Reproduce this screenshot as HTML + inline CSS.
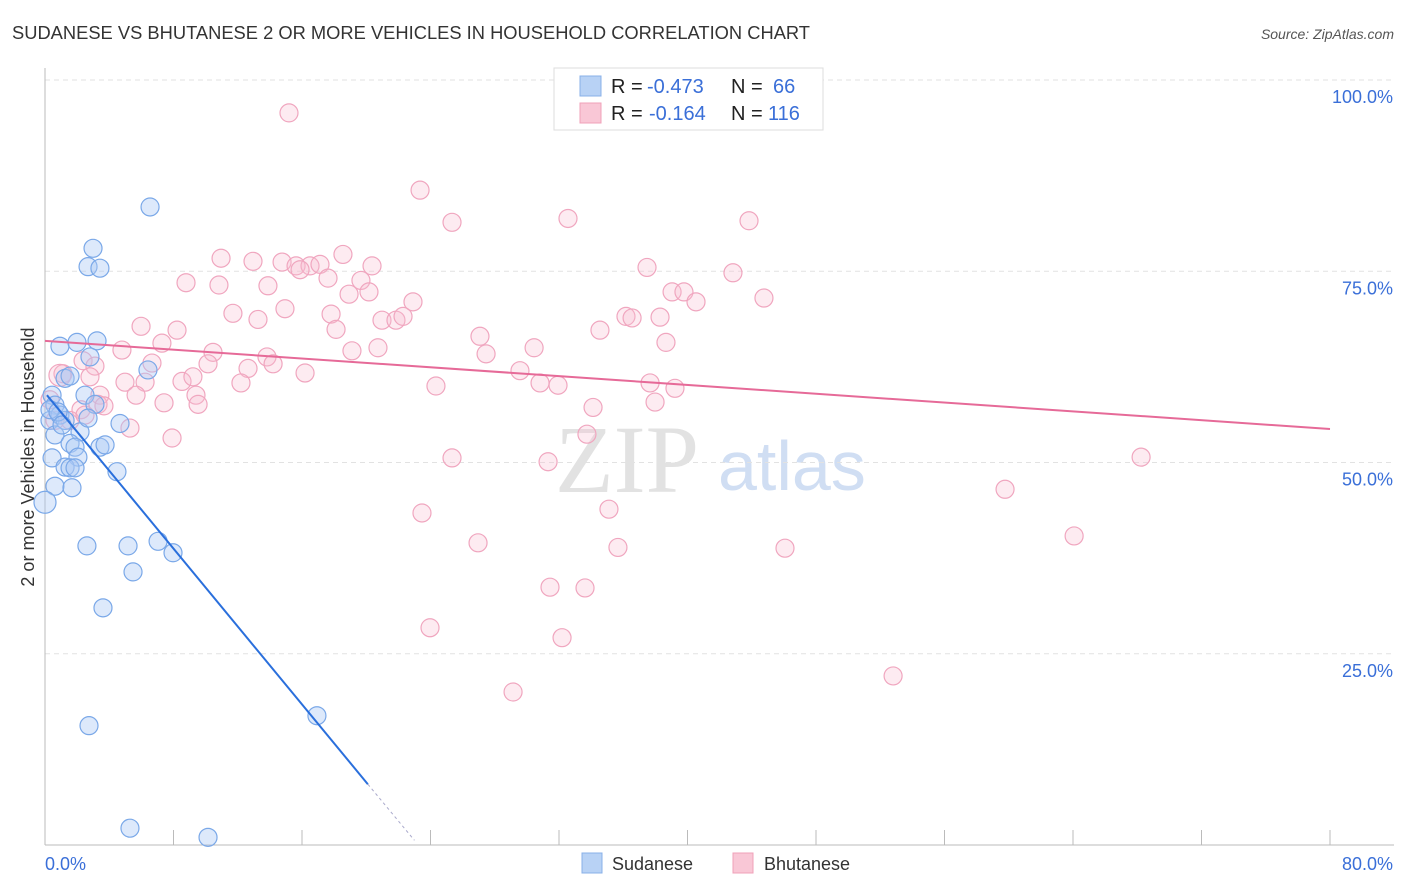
<!DOCTYPE html>
<html><head><meta charset="utf-8"><style>
body{margin:0;background:#fff;font-family:"Liberation Sans",sans-serif;}
svg{display:block}
</style></head><body>
<svg id="chart" width="1406" height="892">
<text x="12" y="39" font-size="18" fill="#333" textLength="798" lengthAdjust="spacingAndGlyphs">SUDANESE VS BHUTANESE 2 OR MORE VEHICLES IN HOUSEHOLD CORRELATION CHART</text>
<text x="1394" y="39" font-size="14" fill="#555" font-style="italic" text-anchor="end">Source: ZipAtlas.com</text>
<text x="555" y="492" font-size="96" fill="#e2e2e2" font-family="Liberation Serif,serif">ZIP</text>
<text x="718" y="490" font-size="70" fill="#d0def3">atlas</text>
<g id="grid"></g><g id="axes"></g><g id="pts"></g><g id="lines"></g>
<g>
<rect x="554" y="68" width="269" height="62" fill="#fff" stroke="#ddd"/>
<rect x="580" y="76" width="21" height="20" fill="#b8d2f5" stroke="#88b0e8"/>
<rect x="580" y="103" width="21" height="20" fill="#f9c7d6" stroke="#f0a0b8"/>
<text x="611" y="93" font-size="20" fill="#222">R =</text>
<text x="647" y="93" font-size="20" fill="#3a6fd8">-0.473</text>
<text x="731" y="93" font-size="20" fill="#222">N =</text>
<text x="773" y="93" font-size="20" fill="#3a6fd8">66</text>
<text x="611" y="120" font-size="20" fill="#222">R =</text>
<text x="649" y="120" font-size="20" fill="#3a6fd8">-0.164</text>
<text x="731" y="120" font-size="20" fill="#222">N =</text>
<text x="768" y="120" font-size="20" fill="#3a6fd8">116</text>
</g>
<g>
<rect x="582" y="853" width="20" height="20" fill="#b8d2f5" stroke="#88b0e8"/>
<text x="612" y="870" font-size="18" fill="#333">Sudanese</text>
<rect x="733" y="853" width="20" height="20" fill="#f9c7d6" stroke="#f0a0b8"/>
<text x="764" y="870" font-size="18" fill="#333">Bhutanese</text>
</g>
<text transform="translate(34,457) rotate(-90)" font-size="18" fill="#333" text-anchor="middle">2 or more Vehicles in Household</text>
</svg>
<script>
const yTicks=[25,50,75,100];
const xTickLabels=["0.0%","80.0%"];
const blueX=[6.54,2.99,2.68,3.42,0.93,1.99,3.24,2.80,6.41,1.25,1.56,0.44,2.49,0.62,3.11,4.67,0.31,0.93,1.25,2.18,0.62,1.56,1.87,3.42,3.74,0.44,2.05,1.25,1.56,1.87,4.48,0.62,1.68,0.0,2.61,5.17,7.04,7.97,5.48,3.61,2.74,16.93,5.29,10.15,0.31,0.81,1.06,2.68];
const blueY=[83.4,78.0,75.6,75.4,65.2,65.7,65.9,63.8,62.1,61.0,61.3,58.8,58.8,57.5,57.6,55.1,55.5,56.2,55.5,54.0,53.6,52.5,52.0,52.0,52.3,50.6,50.7,49.4,49.3,49.3,48.8,46.9,46.7,44.8,39.1,39.1,39.7,38.2,35.7,31.0,15.6,16.9,2.2,1.0,56.9,56.6,54.9,55.8];
const pinkX=[15.19,23.35,25.34,32.56,43.83,10.96,12.95,14.76,15.63,16.50,17.12,18.55,20.36,8.78,10.83,13.88,15.88,17.62,19.67,18.93,20.17,22.91,11.70,13.26,14.94,17.81,20.98,21.85,22.29,5.98,8.22,7.28,18.12,27.08,30.45,34.55,36.17,36.55,38.29,39.04,39.78,40.53,44.76,42.83,37.48,38.66,4.79,10.46,13.82,19.11,20.73,27.46,2.37,1.12,3.11,2.80,6.66,10.15,12.64,14.20,16.19,29.57,4.98,6.23,8.53,9.21,12.20,24.34,30.82,31.94,37.67,39.22,3.42,5.67,3.30,3.67,9.40,9.53,7.41,34.12,37.98,33.74,5.29,7.91,2.24,25.34,31.32,68.24,59.77,23.47,35.11,64.07,26.96,35.67,46.07,31.44,33.62,23.97,32.19,29.14,52.80,43.08,0.93,0.62,0.31,1.56,2.49];
const pinkY=[95.7,85.6,81.4,81.9,81.6,76.7,76.3,76.2,75.7,75.7,75.9,77.2,75.7,73.5,73.2,73.1,75.2,74.1,73.8,72.0,72.3,71.0,69.5,68.7,70.1,69.4,68.6,68.6,69.1,67.8,67.3,65.6,67.4,66.5,65.0,67.3,69.1,68.9,69.0,72.3,72.3,71.0,71.5,74.8,75.5,65.7,64.7,64.4,63.8,64.6,65.0,64.2,63.3,61.6,62.6,61.2,63.0,62.9,62.3,62.9,61.7,62.0,60.5,60.5,60.6,61.2,60.4,60.0,60.4,60.1,60.4,59.7,58.8,58.8,57.6,57.4,58.8,57.6,57.8,57.2,57.9,53.7,54.5,53.2,56.9,50.6,50.1,50.7,46.5,43.4,43.9,40.4,39.5,38.9,38.8,33.7,33.6,28.4,27.1,20.0,22.1,100.0,61.4,55.5,58.2,55.5,56.2];
const blueTrend=[58.8,-2.53];
const pinkTrend=[65.9,-0.144];
const NS="http://www.w3.org/2000/svg";
const sx=v=>45+v/80*1285, sy=v=>845-v/100*765;
function mk(t,a,p){const e=document.createElementNS(NS,t);for(const k in a)e.setAttribute(k,a[k]);p.appendChild(e);return e;}
const grid=document.getElementById('grid'),axes=document.getElementById('axes'),pts=document.getElementById('pts'),lines=document.getElementById('lines');
yTicks.forEach(t=>{
 const l=mk('line',{x1:45,x2:1394,y1:sy(t),y2:sy(t),stroke:'#e2e2e2','stroke-dasharray':'5,4'},grid);
 
 
 const tx=mk('text',{x:1393,y:sy(t)+23,'font-size':18,fill:'#3a6fd8','text-anchor':'end'},axes);
 tx.textContent=t.toFixed(1)+'%';
 
 
});
mk('line',{x1:45,x2:45,y1:68,y2:845,stroke:'#bbb'},axes);
mk('line',{x1:45,x2:1394,y1:845,y2:845,stroke:'#bbb'},axes);
for(let i=1;i<=10;i++){const x=sx(i*8);mk('line',{x1:x,x2:x,y1:830,y2:845,stroke:'#bbb'},axes);}
const xl=mk('text',{x:45,y:870,'font-size':18,fill:'#3a6fd8'},axes);xl.textContent=xTickLabels[0];


const xr=mk('text',{x:1393,y:870,'font-size':18,fill:'#3a6fd8','text-anchor':'end'},axes);xr.textContent=xTickLabels[1];


pinkX.forEach((x,i)=>{const c=mk('circle',{cx:sx(x),cy:sy(pinkY[i]),r:i==102?11:9,fill:'rgba(248,190,210,0.3)',stroke:'#f0a6bf','stroke-width':1.2},pts);
 
 });
blueX.forEach((x,i)=>{const c=mk('circle',{cx:sx(x),cy:sy(blueY[i]),r:i==33?11:9,fill:'rgba(170,200,245,0.4)',stroke:'#7aa8e8','stroke-width':1.2},pts);
 
 });
const pl=mk('line',{x1:sx(0),y1:sy(pinkTrend[0]),x2:sx(80),y2:sy(pinkTrend[0]+pinkTrend[1]*80),stroke:'#e66a98','stroke-width':2},lines);


const bEnd=20.1,bDash=23.0;
const bl=mk('line',{x1:sx(0.12),y1:sy(blueTrend[0]),x2:sx(bEnd),y2:sy(blueTrend[0]+blueTrend[1]*bEnd),stroke:'#2a6fdc','stroke-width':2},lines);


const bd=mk('line',{x1:sx(bEnd),y1:sy(blueTrend[0]+blueTrend[1]*bEnd),x2:sx(bDash),y2:sy(blueTrend[0]+blueTrend[1]*bDash),stroke:'#aac','stroke-width':1,'stroke-dasharray':'3,3'},lines);


</script>
</body></html>
